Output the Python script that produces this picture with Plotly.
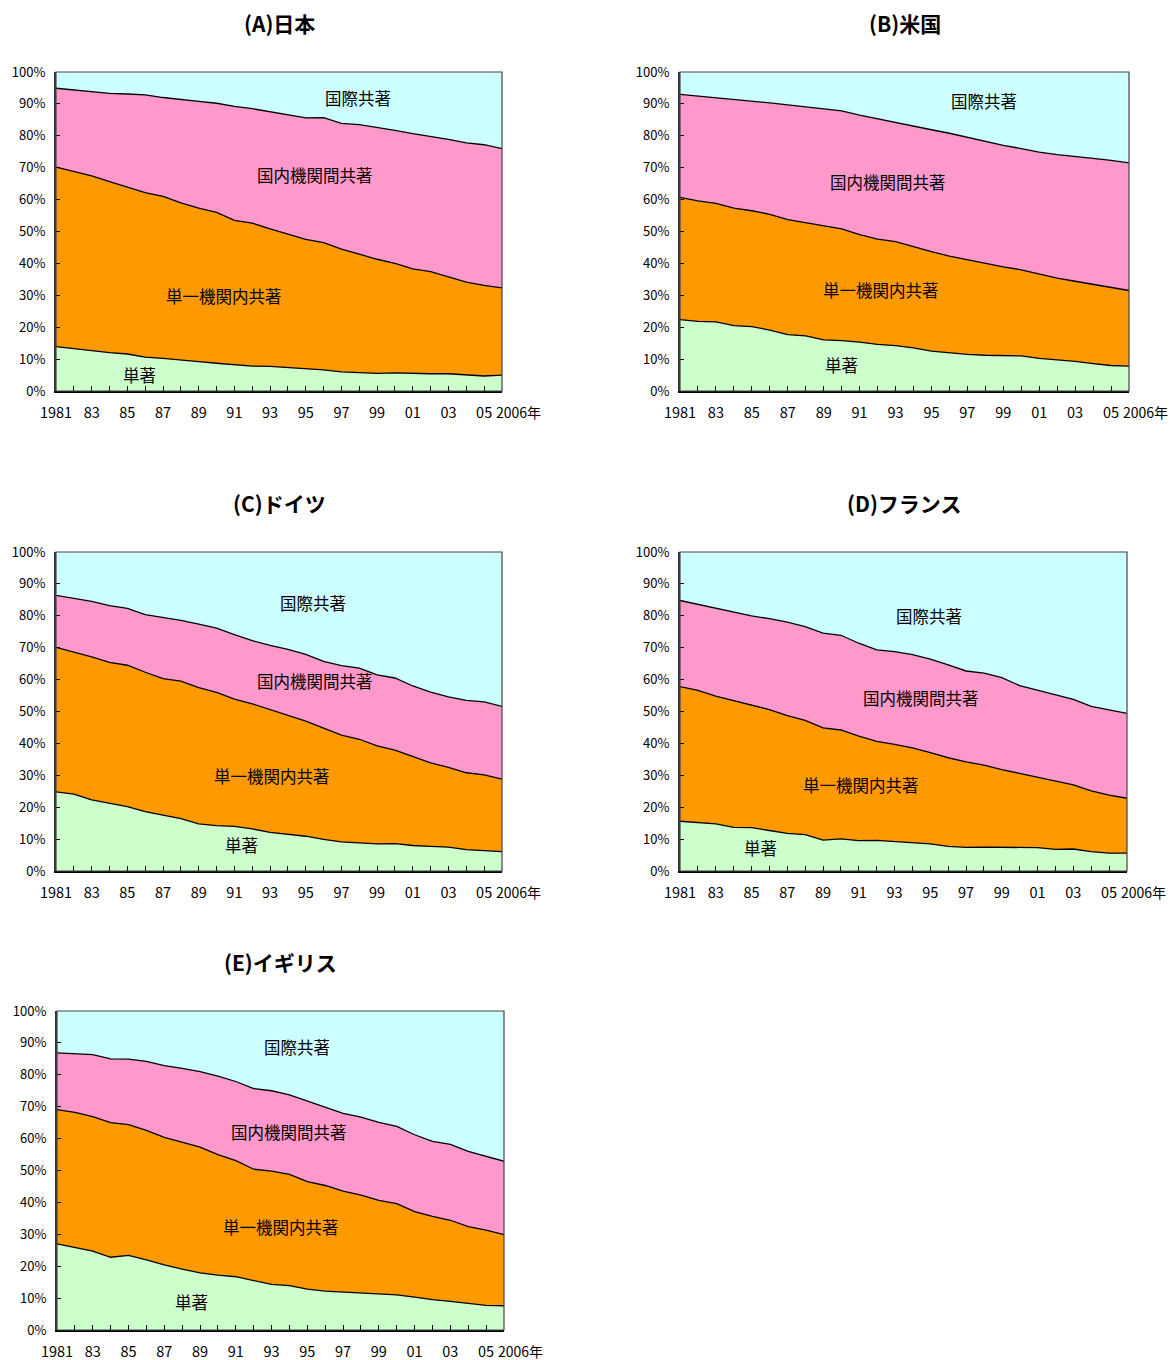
import plotly.graph_objects as go

years = list(range(1981, 2007))

# Cumulative boundaries (%): top of 単著, top of 単一機関内共著, top of 国内機関間共著
A_single = [13.9, 13.2, 12.6, 12.0, 11.6, 10.6, 10.2, 9.8, 9.2, 8.7, 8.2, 7.8, 7.7, 7.4, 6.9, 6.6, 6.0, 5.7, 5.5, 5.7, 5.5, 5.4, 5.4, 5.0, 4.7, 5.0]
A_intra = [70.2, 68.9, 67.4, 65.6, 63.9, 62.2, 61.0, 59.0, 57.3, 56.0, 53.5, 52.6, 50.8, 49.2, 47.5, 46.5, 44.5, 42.9, 41.3, 40.0, 38.3, 37.4, 35.8, 34.1, 33.1, 32.3]
A_domestic = [94.9, 94.4, 94.0, 93.3, 93.1, 92.8, 92.0, 91.5, 90.8, 90.2, 89.2, 88.5, 87.5, 86.6, 85.6, 85.7, 83.9, 83.5, 82.7, 81.7, 80.7, 79.9, 78.9, 77.8, 77.2, 76.0]

B_single = [22.4, 21.8, 21.7, 20.5, 20.2, 19.1, 17.7, 17.3, 16.0, 15.8, 15.3, 14.6, 14.2, 13.5, 12.5, 11.9, 11.5, 11.2, 11.1, 11.0, 10.2, 9.8, 9.3, 8.6, 8.0, 7.8]
B_intra = [60.7, 59.6, 58.8, 57.3, 56.5, 55.4, 53.7, 52.7, 51.6, 50.8, 49.0, 47.6, 46.8, 45.2, 43.7, 42.3, 41.1, 39.9, 38.9, 38.0, 36.6, 35.4, 34.4, 33.4, 32.4, 31.5]
B_domestic = [93.0, 92.5, 92.0, 91.3, 90.8, 90.3, 89.7, 89.1, 88.5, 87.8, 86.5, 85.3, 84.2, 83.1, 81.9, 80.8, 79.5, 78.3, 77.0, 76.0, 74.9, 74.1, 73.6, 72.9, 72.3, 71.5]

C_single = [24.8, 24.1, 22.3, 21.3, 20.2, 18.6, 17.5, 16.4, 14.8, 14.2, 14.0, 13.2, 12.1, 11.6, 10.9, 9.9, 9.1, 8.8, 8.5, 8.6, 8.0, 7.7, 7.5, 6.7, 6.3, 6.1]
C_intra = [70.1, 68.7, 67.1, 65.4, 64.5, 62.3, 60.3, 59.5, 57.5, 56.0, 53.9, 52.4, 50.6, 49.0, 47.0, 44.8, 42.6, 41.3, 39.2, 37.9, 35.8, 33.9, 32.5, 30.8, 30.1, 28.8]
C_domestic = [86.4, 85.5, 84.5, 83.2, 82.3, 80.4, 79.5, 78.6, 77.4, 76.1, 74.1, 72.2, 70.7, 69.5, 67.9, 65.7, 64.4, 63.6, 61.5, 60.5, 58.0, 56.1, 54.6, 53.5, 53.0, 51.6]

D_single = [15.6, 15.2, 14.8, 13.7, 13.6, 12.7, 11.8, 11.4, 9.7, 10.1, 9.5, 9.6, 9.2, 8.9, 8.5, 7.7, 7.4, 7.5, 7.5, 7.3, 7.3, 6.8, 6.9, 6.1, 5.6, 5.6]
D_intra = [57.8, 56.6, 54.8, 53.4, 52.0, 50.6, 48.7, 47.2, 44.9, 44.2, 42.3, 40.6, 39.7, 38.6, 37.1, 35.5, 34.2, 33.2, 31.8, 30.6, 29.5, 28.2, 27.0, 25.1, 23.8, 22.8]
D_domestic = [84.8, 83.6, 82.5, 81.1, 80.0, 79.1, 78.0, 76.6, 74.6, 73.9, 71.4, 69.3, 68.8, 67.8, 66.4, 64.6, 62.7, 62.0, 60.6, 58.1, 56.7, 55.4, 53.8, 51.6, 50.5, 49.4]

E_single = [27.0, 25.9, 24.7, 22.8, 23.4, 22.0, 20.4, 19.1, 17.9, 17.2, 16.7, 15.5, 14.3, 13.9, 12.8, 12.2, 11.9, 11.5, 11.4, 11.0, 10.3, 9.5, 9.0, 8.3, 7.7, 7.6]
E_intra = [69.1, 68.2, 66.9, 65.0, 64.4, 62.6, 60.4, 58.9, 57.3, 55.0, 53.1, 50.4, 49.8, 48.8, 46.5, 45.3, 43.5, 42.3, 40.6, 39.6, 37.1, 35.6, 34.4, 32.4, 31.3, 29.9]
E_domestic = [86.9, 86.6, 86.3, 85.0, 84.9, 84.2, 82.9, 82.0, 81.0, 79.6, 77.9, 75.7, 75.0, 73.7, 71.8, 70.0, 67.9, 66.7, 65.1, 63.8, 61.2, 59.1, 58.2, 56.0, 54.4, 52.9]

total = [100] * len(years)

titles = ["(A)日本", "(B)米国", "(C)ドイツ", "(D)フランス", "(E)イギリス"]
series_names = ["単著", "単一機関内共著", "国内機関間共著", "国際共著"]
colors = ["#CCFFCC", "#FF9900", "#FF99CC", "#CCFFFF"]

tick_years = list(range(1981, 2006, 2))
tick_text = ["1981"] + [str(y)[2:] for y in tick_years[1:]]

# label positions (year, %) for 単著, 単一, 国内, 国際
label_pos = [
    [(1985.7, 5.0), (1990.4, 29.8), (1995.5, 67.7), (1997.9, 91.8)],
    [(1990.0, 8.2), (1992.2, 31.7), (1992.6, 65.5), (1997.9, 90.9)],
    [(1991.4, 8.2), (1993.1, 29.8), (1995.5, 59.6), (1995.4, 84.0)],
    [(1985.5, 7.2), (1991.1, 27.0), (1994.5, 54.2), (1994.9, 79.9)],
    [(1988.5, 8.8), (1993.5, 32.3), (1994.0, 62.1), (1994.4, 88.7)],
]

data = [
    (A_single, A_intra, A_domestic),
    (B_single, B_intra, B_domestic),
    (C_single, C_intra, C_domestic),
    (D_single, D_intra, D_domestic),
    (E_single, E_intra, E_domestic),
]

W, H = 1176, 1360
OFF = 8  # page body margin
boxes = [  # left, right, top, bottom in screen pixels
    (56, 502, 72, 391),
    (680, 1129, 72, 391),
    (56, 502, 552, 871),
    (680, 1127, 552, 871),
    (57, 504, 1011, 1330),
]

def px(v):
    return (v - OFF) / W

def py(v):
    return 1 - (v - OFF) / H

FONT = "Noto Sans CJK JP, Noto Sans, sans-serif"
fig = go.Figure()
annotations = []
shapes = []
layout = {}

for i, (single, intra, domestic) in enumerate(data):
    n = "" if i == 0 else str(i + 1)
    xa, ya = "x" + n, "y" + n
    curves = [single, intra, domestic, total]
    fig.add_trace(go.Scatter(x=years, y=[0] * len(years), mode="lines",
                             line=dict(width=0, color="black"), xaxis=xa, yaxis=ya,
                             showlegend=False, hoverinfo="skip"))
    for k, c in enumerate(curves):
        fig.add_trace(go.Scatter(x=years, y=c, mode="lines", fill="tonexty",
                                 fillcolor=colors[k],
                                 line=dict(color="black", width=1.3 if k < 3 else 0),
                                 name=series_names[k], xaxis=xa, yaxis=ya,
                                 showlegend=False))
    l, r, t, b = boxes[i]
    layout["xaxis" + n] = dict(
        domain=[px(l), px(r)], anchor=ya, range=[1981, 2006], automargin=False,
        tickvals=tick_years, ticktext=tick_text, ticks="inside", ticklen=5,
        tickcolor="black", tickwidth=1, ticklabelstandoff=8,
        minor=dict(dtick=1, tick0=1981, ticks="inside", ticklen=5, tickcolor="black", tickwidth=1),
        showline=True, linecolor="black", linewidth=2, mirror=False,
        showgrid=False, zeroline=False, layer="above traces",
        tickfont=dict(family=FONT, size=14.5, color="black"),
    )
    layout["yaxis" + n] = dict(
        domain=[py(b), py(t)], anchor=xa, range=[0, 100], automargin=False,
        tickvals=list(range(0, 101, 10)), ticktext=[f"{v}%" for v in range(0, 101, 10)],
        ticks="inside", ticklen=4, tickcolor="black", ticklabelstandoff=6,
        showline=True, linecolor="#333333", linewidth=2, mirror=False,
        showgrid=False, zeroline=False, layer="above traces",
        tickfont=dict(family=FONT, size=13, color="black"),
    )
    shapes.append(dict(type="rect", xref=xa + " domain", yref=ya + " domain",
                       x0=0, x1=1, y0=0, y1=1, line=dict(color="#444444", width=1.2),
                       fillcolor="rgba(0,0,0,0)", layer="above"))
    annotations.append(dict(text="<b>" + titles[i] + "</b>", xref="paper", yref="paper",
                            x=px((l + r) / 2), y=py(t - 49), xanchor="center", yanchor="middle",
                            showarrow=False, font=dict(family=FONT, size=21, color="black")))
    annotations.append(dict(text="2006年", xref=xa, yref="paper", x=2006, y=py(b + 21),
                            xanchor="left", yanchor="middle", xshift=-8, showarrow=False,
                            font=dict(family=FONT, size=14, color="black")))
    for k, (lx, ly) in enumerate(label_pos[i]):
        annotations.append(dict(text=series_names[k], x=lx, y=ly, xref=xa, yref=ya,
                                showarrow=False, font=dict(family=FONT, size=16.5, color="black")))

fig.update_layout(**layout)
fig.update_layout(width=W, height=H, margin=dict(l=0, r=0, t=0, b=0, pad=0, autoexpand=False),
                  paper_bgcolor="white", plot_bgcolor="white",
                  annotations=annotations, shapes=shapes, showlegend=False)
fig.write_html("out.html")
